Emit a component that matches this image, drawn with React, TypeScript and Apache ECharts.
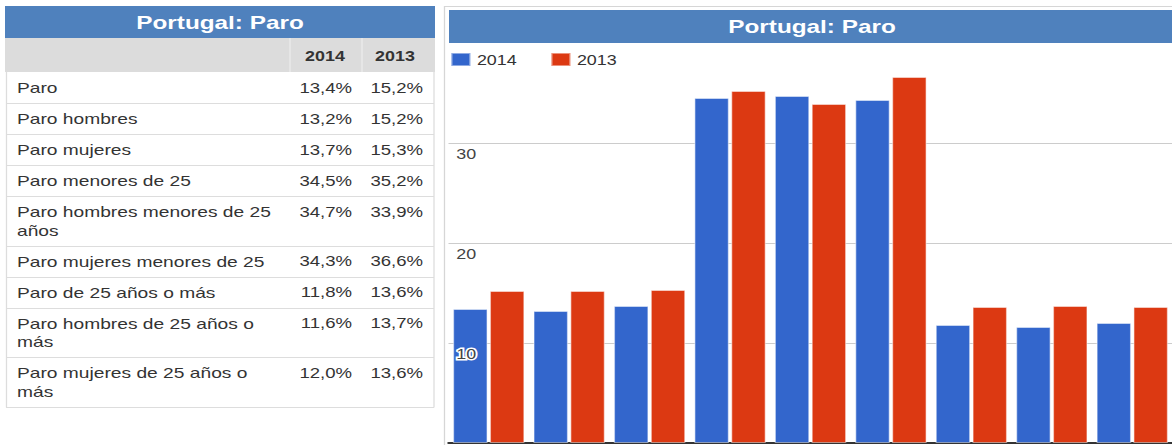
import React, { useEffect, useRef } from 'react';
import * as echarts from 'echarts';

// ---- data ----
const title = 'Portugal: Paro';
const seriesNames = ['2014', '2013'];
const categories = [
  'Paro',
  'Paro hombres',
  'Paro mujeres',
  'Paro menores de 25',
  'Paro hombres menores de 25 años',
  'Paro mujeres menores de 25',
  'Paro de 25 años o más',
  'Paro hombres de 25 años o más',
  'Paro mujeres de 25 años o más',
];
const tableLabels = [
  'Paro',
  'Paro hombres',
  'Paro mujeres',
  'Paro menores de 25',
  'Paro hombres menores de 25\naños',
  'Paro mujeres menores de 25',
  'Paro de 25 años o más',
  'Paro hombres de 25 años o\nmás',
  'Paro mujeres de 25 años o\nmás',
];
const values2014 = [13.4, 13.2, 13.7, 34.5, 34.7, 34.3, 11.8, 11.6, 12.0];
const values2013 = [15.2, 15.2, 15.3, 35.2, 33.9, 36.6, 13.6, 13.7, 13.6];
const yMin = 0;
const yMax = 40;
const yInterval = 10;

// ---- layout ----
const S = 1.28; // horizontal stretch of the reference picture
const W = 916;
const H = 445;
const X = (v: number) => v / S;
const FONT = '"Liberation Sans", Arial, Helvetica, sans-serif';
const BLUE_BAR = '#4f81bd';
const fmt = (v: number) => v.toFixed(1).replace('.', ',') + '%';

function buildGraphics() {
  const els: any[] = [];
  // ---------- left table ----------
  els.push({ type: 'rect', shape: { x: X(5), y: 6, width: X(430), height: 32 }, style: { fill: BLUE_BAR } });
  els.push({
    type: 'text', x: X(220), y: 22.5,
    style: { text: title, fill: '#ffffff', fontFamily: FONT, fontWeight: 'bold', fontSize: 19, align: 'center', verticalAlign: 'middle' },
  });
  els.push({ type: 'rect', shape: { x: X(5), y: 38, width: X(430), height: 34 }, style: { fill: '#dcdcdc' } });
  els.push({ type: 'line', shape: { x1: X(290), y1: 38, x2: X(290), y2: 72 }, style: { stroke: '#ececec', lineWidth: 1 } });
  els.push({ type: 'line', shape: { x1: X(362), y1: 38, x2: X(362), y2: 72 }, style: { stroke: '#ececec', lineWidth: 1 } });
  const headerX = [325, 395];
  seriesNames.forEach((n, i) => {
    els.push({
      type: 'text', x: X(headerX[i]), y: 55.5,
      style: { text: n, fill: '#333333', fontFamily: FONT, fontWeight: 'bold', fontSize: 14, align: 'center', verticalAlign: 'middle' },
    });
  });
  let top = 72;
  const lineH = 18.5;
  const valueRight = [352, 423];
  tableLabels.forEach((lab, i) => {
    const lines = lab.split('\n').length;
    const h = 31 + lineH * (lines - 1);
    els.push({
      type: 'text', x: X(17), y: top + 16 - lineH / 2,
      style: { text: lab, fill: '#333333', fontFamily: FONT, fontSize: 15, lineHeight: lineH, align: 'left', verticalAlign: 'top' },
    });
    [values2014[i], values2013[i]].forEach((v, j) => {
      els.push({
        type: 'text', x: X(valueRight[j]), y: top + 16,
        style: { text: fmt(v), fill: '#333333', fontFamily: FONT, fontSize: 14.5, align: 'right', verticalAlign: 'middle' },
      });
    });
    top += h;
    els.push({ type: 'line', shape: { x1: X(6), y1: Math.round(top) + 0.5, x2: X(434), y2: Math.round(top) + 0.5 }, style: { stroke: '#dddddd', lineWidth: 1 } });
  });
  els.push({ type: 'line', shape: { x1: X(6.5), y1: 72, x2: X(6.5), y2: Math.round(top) + 0.5 }, style: { stroke: '#dddddd', lineWidth: 1 } });
  els.push({ type: 'line', shape: { x1: X(434), y1: 72, x2: X(434), y2: Math.round(top) + 0.5 }, style: { stroke: '#dddddd', lineWidth: 1 } });

  // ---------- right chart frame ----------
  els.push({ type: 'rect', shape: { x: X(444.5), y: 6.5, width: X(760), height: 460 }, style: { fill: 'none', stroke: '#d6d6d6', lineWidth: 1 } });
  els.push({ type: 'rect', shape: { x: X(449), y: 10, width: X(726), height: 33 }, style: { fill: BLUE_BAR } });
  els.push({
    type: 'text', x: X(812), y: 26.5,
    style: { text: title, fill: '#ffffff', fontFamily: FONT, fontWeight: 'bold', fontSize: 19, align: 'center', verticalAlign: 'middle' },
  });
  return els;
}

function buildOption(): any {
  return {
    animation: false,
    textStyle: { fontFamily: FONT },
    graphic: { elements: buildGraphics() },
    legend: {
      data: seriesNames,
      left: X(450),
      top: 52,
      padding: 0,
      itemWidth: 15,
      itemHeight: 13,
      itemGap: 26,
      icon: 'rect',
      textStyle: { fontSize: 14, color: '#333333', fontFamily: FONT },
    },
    grid: { left: X(448.5), top: 43, width: X(729), height: 400 },
    xAxis: {
      type: 'category',
      data: categories,
      axisLabel: { show: false },
      axisTick: { show: false },
      axisLine: { show: true, lineStyle: { color: '#333333', width: 2 } },
      splitLine: { show: false },
    },
    yAxis: [
      {
        type: 'value', min: yMin, max: yMax, interval: yInterval, position: 'left',
        axisLine: { show: false }, axisTick: { show: false }, axisLabel: { show: false },
        splitLine: { show: true, showMinLine: false, showMaxLine: false, lineStyle: { color: '#cccccc', width: 1 } },
      },
      {
        type: 'value', min: yMin, max: yMax, interval: yInterval, position: 'left', z: 10,
        axisLine: { show: false }, axisTick: { show: false }, splitLine: { show: false },
        axisLabel: {
          inside: true, margin: 6, verticalAlign: 'top', padding: [4, 0, 0, 0],
          fontSize: 14, color: '#444444', fontFamily: FONT,
          textBorderColor: '#ffffff', textBorderWidth: 3,
          formatter: (v: number) => (v === yMin || v === yMax ? '' : String(v)),
        },
      },
    ],
    series: [
      {
        name: seriesNames[0], type: 'bar', data: values2014, barGap: '6%', barCategoryGap: '11%',
        itemStyle: { color: '#3366cc', borderColor: 'rgba(255,255,255,0.45)', borderWidth: 1 },
      },
      {
        name: seriesNames[1], type: 'bar', data: values2013, barGap: '6%', barCategoryGap: '11%',
        itemStyle: { color: '#dc3912', borderColor: 'rgba(255,255,255,0.45)', borderWidth: 1 },
      },
    ],
  };
}

export default function App() {
  const ref = useRef<HTMLDivElement>(null);
  useEffect(() => {
    if (!ref.current) return;
    const chart = echarts.init(ref.current, null, { renderer: 'svg', width: W, height: H });
    chart.setOption(buildOption());
    return () => chart.dispose();
  }, []);
  return (
    <div
      ref={ref}
      style={{
        position: 'fixed', left: 0, top: 0, width: W, height: H,
        transform: `scaleX(${S})`, transformOrigin: '0 0', background: '#ffffff',
      }}
    />
  );
}
